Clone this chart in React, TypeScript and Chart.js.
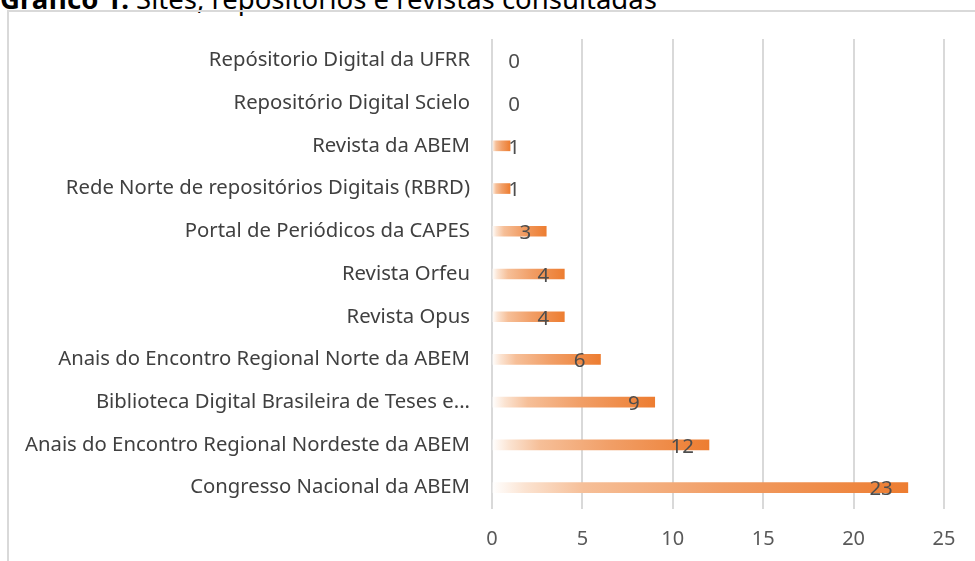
import React, { useEffect, useRef } from "react";
import { Chart, registerables } from "chart.js";

Chart.register(...registerables);

const categories = [
  "Repósitorio Digital da UFRR",
  "Repositório Digital Scielo",
  "Revista da ABEM",
  "Rede Norte de repositórios Digitais (RBRD)",
  "Portal de Periódicos da CAPES",
  "Revista Orfeu",
  "Revista Opus",
  "Anais do Encontro Regional Norte da ABEM",
  "Biblioteca Digital Brasileira de Teses e...",
  "Anais do Encontro Regional Nordeste da ABEM",
  "Congresso Nacional da ABEM",
];
const values = [0, 0, 1, 1, 3, 4, 4, 6, 9, 12, 23];
const xTicks = [0, 5, 10, 15, 20, 25];
const titleBold = "Gráfico 1:";
const titleRest = " Sites, repositórios e revistas consultadas";

const FONT = "'Noto Sans', 'Open Sans', sans-serif";

export default function App() {
  const ref = useRef<HTMLCanvasElement>(null);

  useEffect(() => {
    const canvas = ref.current!;
    const valueLabels = {
      id: "valueLabels",
      afterDatasetsDraw(chart: any) {
        const ctx = chart.ctx;
        const meta = chart.getDatasetMeta(0);
        const xs = chart.scales.x;
        const base = xs.getPixelForValue(0);
        ctx.save();
        ctx.font = "20.5px " + FONT;
        ctx.fillStyle = "#4d4d4d";
        ctx.textAlign = "right";
        ctx.textBaseline = "middle";
        meta.data.forEach((el: any, i: number) => {
          const end = xs.getPixelForValue(values[i]);
          const x = Math.max(end - 15, base + 28);
          ctx.fillText(String(values[i]), x, el.y + 2);
        });
        ctx.restore();
      },
    };

    const chart = new Chart(canvas, {
      type: "bar",
      data: {
        labels: categories,
        datasets: [
          {
            data: values,
            barThickness: 10,
            borderWidth: 0,
            backgroundColor: (c: any) => {
              const ch = c.chart;
              const xs = ch.scales && ch.scales.x;
              if (!xs || c.dataIndex == null) return "#ed7d31";
              const v = values[c.dataIndex];
              const x0 = xs.getPixelForValue(0);
              const x1 = xs.getPixelForValue(v);
              if (!isFinite(x0) || !isFinite(x1)) return "#ed7d31";
              if (x1 - x0 < 1) return "rgba(0,0,0,0)";
              const g = ch.ctx.createLinearGradient(x0, 0, x1, 0);
              g.addColorStop(0, "#ffffff");
              g.addColorStop(0.08, "#fbe3d1");
              g.addColorStop(0.22, "#f6bf98");
              g.addColorStop(0.55, "#f19e66");
              g.addColorStop(1, "#ed7d31");
              return g;
            },
          },
        ],
      },
      options: {
        indexAxis: "y",
        animation: false,
        responsive: false,
        devicePixelRatio: 1,
        layout: { padding: { top: 39, right: 31, left: 0, bottom: 0 } },
        plugins: { legend: { display: false }, tooltip: { enabled: false } },
        scales: {
          x: {
            min: 0,
            max: 25,
            afterBuildTicks: (s: any) => {
              s.ticks = xTicks.map((v) => ({ value: v }));
            },
            grid: { color: "#d9d9d9", lineWidth: 2, drawTicks: false },
            border: { display: false },
            ticks: { padding: 18, color: "#595959", font: { family: FONT, size: 20 } },
            afterFit: (s: any) => {
              s.height = 52;
            },
          },
          y: {
            grid: { display: false, drawTicks: false },
            border: { display: false },
            ticks: { padding: 22, color: "#404040", font: { family: FONT, size: 20.3 }, autoSkip: false },
            afterFit: (s: any) => {
              s.width = 492;
            },
          },
        },
      },
      plugins: [valueLabels],
    } as any);
    return () => chart.destroy();
  }, []);

  return (
    <div style={{ position: "fixed", left: 0, top: 0, width: 975, height: 561, overflow: "hidden", background: "#fff" }}>
      <div
        style={{
          position: "absolute",
          left: 0,
          top: -15,
          fontFamily: FONT,
          fontSize: 27.5,
          lineHeight: 1,
          color: "#000",
          whiteSpace: "nowrap",
        }}
      >
        <b>{titleBold}</b>
        {titleRest}
      </div>
      <div
        style={{
          position: "absolute",
          left: 7,
          top: 10,
          width: 1000,
          height: 600,
          border: "2px solid #d9d9d9",
          boxSizing: "border-box",
        }}
      />
      <canvas ref={ref} width={975} height={561} style={{ position: "absolute", left: 0, top: 0 }} />
    </div>
  );
}
